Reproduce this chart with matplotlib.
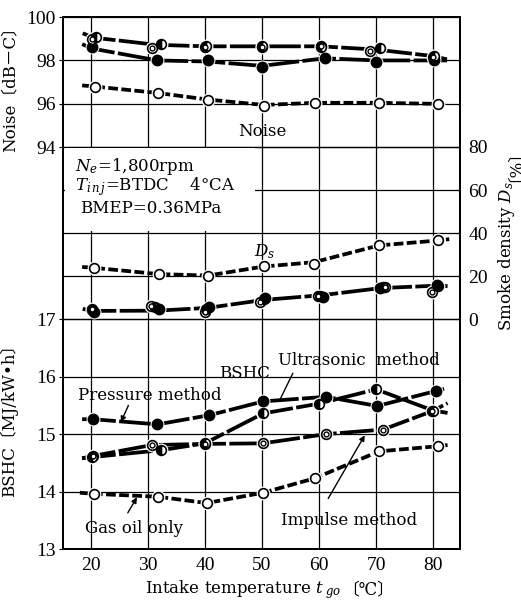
import matplotlib
matplotlib.use("Agg")
import matplotlib.pyplot as plt
from matplotlib.patches import Rectangle

plt.rcParams['font.family'] = ['DejaVu Serif', 'Noto Sans CJK JP', 'DejaVu Sans']
plt.rcParams['mathtext.fontset'] = 'dejavuserif'

# ---------------- data ----------------
x_ticks = [20, 30, 40, 50, 60, 70, 80]
noise_ticks = [94, 96, 98, 100]
smoke_ticks = [0, 20, 40, 60, 80]
bshc_ticks = [13, 14, 15, 16, 17]

# Noise [dB-C]
noise_press_t = [20.2, 31.7, 40.6, 50.0, 61.0, 70.0, 80.2]
noise_press = [98.6, 98.0, 98.0, 97.7, 98.1, 97.95, 98.0]
noise_ultra_t = [21.0, 32.3, 40.2, 50.0, 60.3, 70.7, 80.2]
noise_ultra = [99.1, 98.75, 98.65, 98.65, 98.6, 98.55, 98.2]
noise_imp_t = [20.2, 30.8, 40.0, 50.0, 60.3, 69.0, 80.0]
noise_imp = [99.0, 98.55, 98.6, 98.6, 98.65, 98.45, 98.15]
noise_gas_t = [20.7, 31.8, 40.5, 50.3, 59.3, 70.5, 80.8]
noise_gas = [96.8, 96.5, 96.2, 95.9, 96.05, 96.05, 96.0]
# fitted curves
noise_press_curve_t = [18.5, 20.2, 31.7, 40.6, 50.0, 61.0, 70.0, 80.2, 82.4]
noise_press_curve = [98.75, 98.55, 98.0, 97.95, 97.75, 98.1, 98.0, 98.0, 98.0]
noise_upper_curve_t = [18.6, 20.5, 31.5, 40.2, 50.0, 60.3, 70.0, 80.0, 82.4]
noise_upper_curve = [99.25, 99.05, 98.72, 98.65, 98.65, 98.65, 98.5, 98.2, 98.05]
noise_gas_curve_t = [18.5, 20.7, 31.8, 40.5, 50.3, 59.3, 70.5, 80.8, 82.6]
noise_gas_curve = [96.85, 96.8, 96.5, 96.2, 95.95, 96.05, 96.05, 96.0, 95.95]

# Smoke density Ds [%]
smoke_gas_t = [20.6, 31.9, 40.5, 50.3, 59.1, 70.5, 80.9]
smoke_gas = [23.9, 21.2, 20.3, 24.9, 25.9, 34.3, 36.6]
smoke_gas_curve_t = [18.5, 20.6, 31.9, 40.5, 50.3, 59.1, 70.5, 80.9, 82.8]
smoke_gas_curve = [24.3, 23.9, 21.0, 20.3, 24.5, 26.5, 34.3, 36.6, 37.2]
smoke_press_t = [20.6, 31.9, 40.7, 50.5, 60.7, 70.7, 80.6]
smoke_press = [3.6, 5.0, 5.7, 10.0, 10.2, 14.5, 15.9]
smoke_ultra_t = [20.3, 31.2, 40.2, 50.3, 60.2, 71.2, 80.9]
smoke_ultra = [4.3, 5.5, 4.6, 9.4, 11.0, 14.8, 15.5]
smoke_imp_t = [20.3, 30.6, 40.1, 49.6, 59.8, 71.5, 79.8]
smoke_imp = [4.6, 6.4, 3.4, 7.9, 10.8, 15.0, 12.7]
smoke_low_curve_t = [18.6, 20.6, 31.5, 40.5, 50.3, 60.5, 70.8, 80.5, 82.5]
smoke_low_curve = [4.8, 3.9, 4.0, 5.3, 9.0, 11.2, 14.5, 15.6, 15.4]

# BSHC [MJ/kW.h]
bshc_press_t = [20.4, 31.7, 40.8, 50.2, 61.2, 70.2, 80.4]
bshc_press = [15.26, 15.17, 15.33, 15.57, 15.65, 15.49, 15.75]
bshc_press_curve_t = [18.5] + bshc_press_t + [82.4]
bshc_press_curve = [15.26] + bshc_press + [15.8]
bshc_ultra_t = [20.2, 32.3, 40.0, 50.2, 59.9, 70.0, 80.0]
bshc_ultra = [14.6, 14.72, 14.84, 15.36, 15.53, 15.78, 15.41]
bshc_ultra_curve_t = [18.5] + bshc_ultra_t + [82.5]
bshc_ultra_curve = [14.58] + bshc_ultra + [15.37]
bshc_imp_t = [20.4, 30.7, 40.0, 50.2, 61.2, 71.2, 79.8]
bshc_imp = [14.62, 14.81, 14.83, 14.84, 15.0, 15.08, 15.4]
bshc_imp_curve_t = [18.5] + bshc_imp_t + [82.5]
bshc_imp_curve = [14.58] + bshc_imp + [15.54]
bshc_gas_t = [20.6, 31.8, 40.3, 50.2, 59.2, 70.5, 80.8]
bshc_gas = [13.96, 13.91, 13.8, 13.98, 14.23, 14.7, 14.79]
bshc_gas_curve_t = [18.1] + bshc_gas_t + [82.5]
bshc_gas_curve = [13.98] + bshc_gas + [14.81]

# ---------------- figure ----------------
W, H = 521, 604
fig = plt.figure(figsize=(W / 100, H / 100), dpi=100)
L, R, T, B = 63, 460, 17, 549
ax = fig.add_axes([L / W, (H - B) / H, (R - L) / W, (B - T) / H])
axn = ax.twinx()
axs = ax.twinx()

ax.set_xlim(15.15, 84.68)
ax.set_ylim(13, 13 + (B - T) / 57.43)
axn.set_ylim(100 - (B - T) / 21.72, 100)
axs.set_ylim(-(B - 319.3) / 2.154, (319.3 - T) / 2.154)

FS = 12
TFS = 14
TICKFONT = 'Liberation Serif'
gridkw = dict(color='black', lw=0.9)
for a in (ax, axn, axs):
    a.set_axisbelow(True)
    for s in a.spines.values():
        s.set_linewidth(1.3)

ax.set_xticks(x_ticks)
ax.set_yticks(bshc_ticks)
ax.grid(True, axis='both', **gridkw)
ax.tick_params(axis='x', length=0, pad=6, labelsize=TFS, labelfontfamily=TICKFONT)
ax.tick_params(axis='y', direction='out', length=3, pad=2, labelsize=TFS, labelfontfamily=TICKFONT)

axn.yaxis.tick_left()
axn.yaxis.set_label_position('left')
axn.set_yticks(noise_ticks)
axn.grid(True, axis='y', **gridkw)
axn.tick_params(axis='y', direction='out', length=3, pad=2, labelsize=TFS, labelfontfamily=TICKFONT)

axs.set_yticks(smoke_ticks)
axs.grid(True, axis='y', **gridkw)
axs.tick_params(axis='y', direction='in', length=3, pad=6, labelsize=TFS, labelfontfamily=TICKFONT)

# white box holding the operating conditions
axs.add_patch(Rectangle((0.004, 0.597), 0.48, 0.156, transform=axs.transAxes,
                        facecolor='white', edgecolor='none', zorder=1.5))

LW = 2.7
MS = 7.0
long_dash = (9, 0.9)
short_dash = (2.6, 0.9)


def curve(a, t, v, dashes):
    a.plot(t, v, color='black', lw=LW, dashes=dashes, zorder=3,
           solid_capstyle='round', dash_capstyle='butt')


def marks(a, t, v, kind):
    a.plot(t, v, ls='none', marker='o', ms=MS + 3, mfc='white', mec='none', zorder=4)
    if kind == 'filled':
        a.plot(t, v, ls='none', marker='o', ms=MS + 0.5, mfc='black', mec='black', zorder=5)
    elif kind == 'half':
        a.plot(t, v, ls='none', marker='o', ms=MS, fillstyle='left', mfc='black',
               markerfacecoloralt='white', mec='black', mew=1.2, zorder=5)
    elif kind == 'double':
        a.plot(t, v, ls='none', marker='o', ms=MS, mfc='white', mec='black', mew=1.2, zorder=5)
        a.plot(t, v, ls='none', marker='o', ms=MS * 0.5, mfc='white', mec='black', mew=1.0, zorder=6)
    else:
        a.plot(t, v, ls='none', marker='o', ms=MS, mfc='white', mec='black', mew=1.2, zorder=5)


# Noise
curve(axn, noise_press_curve_t, noise_press_curve, long_dash)
curve(axn, noise_upper_curve_t, noise_upper_curve, long_dash)
curve(axn, noise_gas_curve_t, noise_gas_curve, short_dash)
marks(axn, noise_press_t, noise_press, 'filled')
marks(axn, noise_imp_t, noise_imp, 'double')
marks(axn, noise_ultra_t, noise_ultra, 'half')
marks(axn, noise_gas_t, noise_gas, 'open')

# Smoke
curve(axs, smoke_gas_curve_t, smoke_gas_curve, short_dash)
curve(axs, smoke_low_curve_t, smoke_low_curve, long_dash)
marks(axs, smoke_gas_t, smoke_gas, 'open')
marks(axs, smoke_imp_t, smoke_imp, 'double')
marks(axs, smoke_ultra_t, smoke_ultra, 'half')
marks(axs, smoke_press_t, smoke_press, 'filled')

# BSHC
curve(ax, bshc_press_curve_t, bshc_press_curve, long_dash)
curve(ax, bshc_ultra_curve_t, bshc_ultra_curve, long_dash)
curve(ax, bshc_imp_curve_t, bshc_imp_curve, long_dash)
curve(ax, bshc_gas_curve_t, bshc_gas_curve, short_dash)
marks(ax, bshc_gas_t, bshc_gas, 'open')
marks(ax, bshc_imp_t, bshc_imp, 'double')
marks(ax, bshc_ultra_t, bshc_ultra, 'half')
marks(ax, bshc_press_t, bshc_press, 'filled')

# axis labels (brackets as separate text so the CJK fallback font is used)
xl = ax.set_xlabel('Intake temperature $t_{\\ go}$', fontsize=FS)
ax.xaxis.set_label_coords(0.455, -0.055)
ax.set_ylabel('BSHC〔MJ/kW•h〕', fontsize=FS)
ax.yaxis.set_label_coords(-0.113, 0.25)
axn.set_ylabel('Noise〔dB－C〕', fontsize=FS)
axn.yaxis.set_label_coords(-0.113, 0.872)
sl = axs.set_ylabel('Smoke density $D_s$', fontsize=FS)
axs.yaxis.set_label_coords(1.09, 0.55)

fig.canvas.draw()
ax.annotate('〔℃〕', xy=(1, 0.5), xycoords=xl, ha='left', va='center',
            fontsize=FS, annotation_clip=False)
axs.annotate('〔%〕', xy=(0.5, 1), xycoords=sl, ha='center', va='bottom',
             rotation=90, fontsize=FS, annotation_clip=False)

# annotations
axn.text(50.0, 94.75, 'Noise', fontsize=FS, ha='center', va='center', zorder=7)
axs.text(17.25, 71.0, '$N_e$=1,800rpm', fontsize=FS, ha='left', va='center', zorder=7)
axs.text(17.25, 61.4, '$T_{i\\,n\\,j}$=BTDC    4°CA', fontsize=FS, ha='left', va='center', zorder=7)
axs.text(18.1, 51.6, 'BMEP=0.36MPa', fontsize=FS, ha='left', va='center', zorder=7)
axs.text(50.5, 31.2, '$D_s$', fontsize=FS, ha='center', va='center', zorder=7)
ax.text(47.0, 16.05, 'BSHC', fontsize=FS, ha='center', va='center', zorder=7)
ax.text(67.0, 16.29, 'Ultrasonic  method', fontsize=FS, ha='center', va='center', zorder=7)
ax.text(30.4, 15.68, 'Pressure method', fontsize=FS, ha='center', va='center', zorder=7)
ax.text(27.6, 13.35, 'Gas oil only', fontsize=FS, ha='center', va='center', zorder=7)
ax.text(65.2, 13.49, 'Impulse method', fontsize=FS, ha='center', va='center', zorder=7)

arr = dict(arrowstyle='-|>', lw=1.0, color='black', mutation_scale=8, shrinkA=0, shrinkB=0)
ax.annotate('', xy=(25.3, 15.21), xytext=(26.6, 15.5), arrowprops=arr, zorder=7)
ax.annotate('', xy=(28.1, 13.9), xytext=(26.5, 13.63), arrowprops=arr, zorder=7)
ax.annotate('', xy=(68.0, 14.98), xytext=(61.6, 13.88), arrowprops=arr, zorder=7)
ax.annotate('', xy=(53.1, 15.59), xytext=(55.4, 16.06),
            arrowprops=dict(arrowstyle='-', lw=1.0, color='black', shrinkA=0, shrinkB=0), zorder=7)

fig.savefig('out.png', dpi=100)
